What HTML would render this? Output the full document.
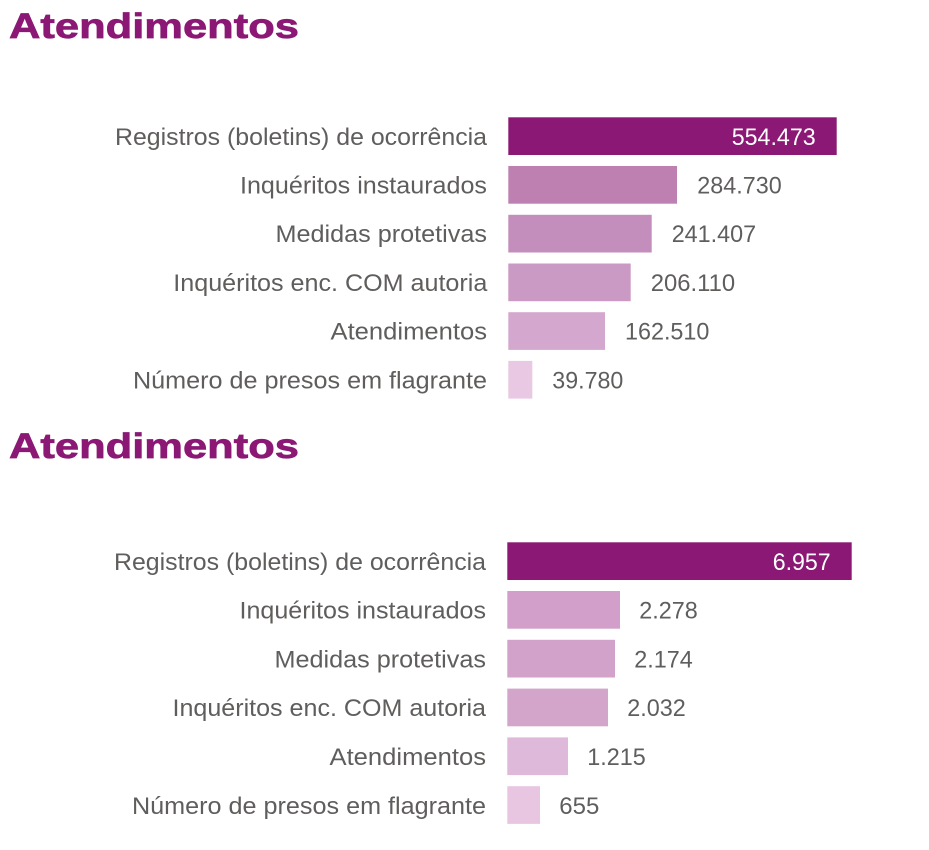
<!DOCTYPE html>
<html><head><meta charset="utf-8"><style>
html,body{margin:0;padding:0;background:#fff;}
svg{display:block;}
text{font-family:"Liberation Sans",sans-serif;}
.t{font-weight:bold;fill:#8b1874;stroke:#8b1874;stroke-width:0.7px;font-size:35.5px;}
.l{fill:#605e5c;font-size:24px;}
.v{fill:#605e5c;font-size:24px;}
.w{fill:#ffffff;font-size:24px;}
</style></head><body>
<svg width="929" height="850" viewBox="0 0 929 850" xmlns="http://www.w3.org/2000/svg">
<rect width="929" height="850" fill="#fff"/>
<!-- Chart 1 -->
<text class="t" x="9" y="38" textLength="290" lengthAdjust="spacingAndGlyphs">Atendimentos</text>

<rect x="508.3" y="117.3" width="328.4" height="37.7" fill="#8b1874"/>
<rect x="508.3" y="166" width="168.7" height="37.7" fill="#bd80b1"/>
<rect x="508.3" y="214.8" width="143.4" height="37.7" fill="#c48ebc"/>
<rect x="508.3" y="263.5" width="122.4" height="37.7" fill="#cb9ac4"/>
<rect x="508.3" y="312.2" width="96.7" height="37.7" fill="#d4a8ce"/>
<rect x="508.3" y="360.9" width="24" height="37.7" fill="#e8c8e2"/>

<text class="l" x="115" y="145" textLength="372" lengthAdjust="spacingAndGlyphs">Registros (boletins) de ocorrência</text>
<text class="l" x="240" y="193.5" textLength="247" lengthAdjust="spacingAndGlyphs">Inquéritos instaurados</text>
<text class="l" x="275.5" y="242.2" textLength="211.5" lengthAdjust="spacingAndGlyphs">Medidas protetivas</text>
<text class="l" x="173.3" y="291" textLength="314" lengthAdjust="spacingAndGlyphs">Inquéritos enc. COM autoria</text>
<text class="l" x="330.5" y="339.6" textLength="156.5" lengthAdjust="spacingAndGlyphs">Atendimentos</text>
<text class="l" x="133" y="388.3" textLength="354" lengthAdjust="spacingAndGlyphs">Número de presos em flagrante</text>

<text class="w" x="731.7" y="145" textLength="84" lengthAdjust="spacingAndGlyphs">554.473</text>
<text class="v" x="697.3" y="193.5" textLength="84.4" lengthAdjust="spacingAndGlyphs">284.730</text>
<text class="v" x="671.7" y="242.2" textLength="84.4" lengthAdjust="spacingAndGlyphs">241.407</text>
<text class="v" x="650.7" y="291" textLength="84.4" lengthAdjust="spacingAndGlyphs">206.110</text>
<text class="v" x="625" y="339.6" textLength="84.4" lengthAdjust="spacingAndGlyphs">162.510</text>
<text class="v" x="552.3" y="388.3" textLength="71" lengthAdjust="spacingAndGlyphs">39.780</text>

<!-- Chart 2 -->
<text class="t" x="9" y="458" textLength="290" lengthAdjust="spacingAndGlyphs">Atendimentos</text>

<rect x="507.3" y="542.3" width="344.4" height="37.7" fill="#8b1874"/>
<rect x="507.3" y="591" width="112.7" height="37.7" fill="#d19fc9"/>
<rect x="507.3" y="639.8" width="107.7" height="37.7" fill="#d2a2ca"/>
<rect x="507.3" y="688.6" width="100.7" height="37.7" fill="#d3a5cb"/>
<rect x="507.3" y="737.4" width="60.7" height="37.7" fill="#dfb9da"/>
<rect x="507.3" y="786.2" width="32.7" height="37.7" fill="#e8c6e2"/>

<text class="l" x="114" y="570" textLength="372" lengthAdjust="spacingAndGlyphs">Registros (boletins) de ocorrência</text>
<text class="l" x="239.5" y="618.7" textLength="246.5" lengthAdjust="spacingAndGlyphs">Inquéritos instaurados</text>
<text class="l" x="274.5" y="667.5" textLength="211.5" lengthAdjust="spacingAndGlyphs">Medidas protetivas</text>
<text class="l" x="172.5" y="716.2" textLength="313.5" lengthAdjust="spacingAndGlyphs">Inquéritos enc. COM autoria</text>
<text class="l" x="329.5" y="765" textLength="156.5" lengthAdjust="spacingAndGlyphs">Atendimentos</text>
<text class="l" x="132" y="813.8" textLength="354" lengthAdjust="spacingAndGlyphs">Número de presos em flagrante</text>

<text class="w" x="772.7" y="570" textLength="58" lengthAdjust="spacingAndGlyphs">6.957</text>
<text class="v" x="639.3" y="618.7" textLength="58.5" lengthAdjust="spacingAndGlyphs">2.278</text>
<text class="v" x="634.3" y="667.5" textLength="58.5" lengthAdjust="spacingAndGlyphs">2.174</text>
<text class="v" x="627.3" y="716.2" textLength="58.5" lengthAdjust="spacingAndGlyphs">2.032</text>
<text class="v" x="587.3" y="765" textLength="58.5" lengthAdjust="spacingAndGlyphs">1.215</text>
<text class="v" x="559.3" y="813.8" textLength="40" lengthAdjust="spacingAndGlyphs">655</text>
</svg>
</body></html>
